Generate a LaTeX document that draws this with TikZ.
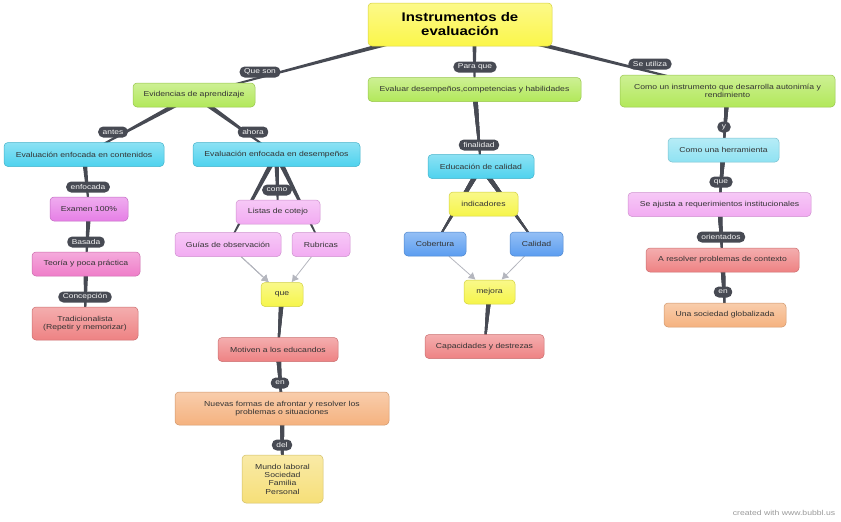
\documentclass[tikz,border=0pt]{standalone}
\usepackage{fontspec}
\setmainfont{Liberation Sans}[FakeStretch=1.2]
\usetikzlibrary{calc,arrows.meta,backgrounds}

\definecolor{linkgray}{HTML}{474A53}
\definecolor{arrgray}{HTML}{B4B6BE}
\definecolor{textgray}{HTML}{333333}
\definecolor{ctitle}{HTML}{FBF64A}
\definecolor{cgreen}{HTML}{B2E85A}
\definecolor{ccyan}{HTML}{4ED2EE}
\definecolor{clcyan}{HTML}{8FE2F2}
\definecolor{cmag}{HTML}{E67FE6}
\definecolor{cpink}{HTML}{EF7DC9}
\definecolor{clilac}{HTML}{F2ABF2}
\definecolor{cred}{HTML}{EE8283}
\definecolor{corange}{HTML}{F5B27F}
\definecolor{cblue}{HTML}{5B9DF0}
\definecolor{cyellow}{HTML}{F6F54A}
\definecolor{cgold}{HTML}{F6DF78}

% tapered link, thick at the parent
\newcommand{\bublink}[2]{%
	\fill[linkgray] ($(#1)!2.6pt!90:(#2)$) -- ($(#2)!0.6pt!-90:(#1)$)
		-- ($(#2)!0.6pt!90:(#1)$) -- ($(#1)!2.6pt!-90:(#2)$) -- cycle;}

\tikzset{
	bubble/.style={rounded corners=4pt, draw=#1!85!black, line width=0.5pt,
		top color=#1!65!white, bottom color=#1, text=textgray,
		font=\fontsize{7.2}{8.3}\selectfont, align=center,
		minimum height=24, inner xsep=6pt, inner ysep=2pt},
	tag/.style={fill=linkgray, text=white!92!gray, rounded corners=5pt,
		font=\fontsize{7}{8}\selectfont, inner xsep=4.5pt, inner ysep=0pt,
		minimum height=11},
	arr/.style={draw=arrgray, line width=0.8pt, -{Latex[length=7pt,width=8pt]}}
}

\begin{document}
\begin{tikzpicture}[x=1pt,y=-1pt]

\useasboundingbox (0,0) rectangle (841,522);

% main bubbles
\node[bubble=ctitle, minimum width=184, minimum height=43, text=black,
	font=\fontsize{12.5}{14}\selectfont\bfseries] (title) at (460,24.5) {Instrumentos de\\evaluación};
\node[bubble=cgreen, minimum width=122] (evid) at (194,95) {Evidencias de aprendizaje};
\node[bubble=cgreen, minimum width=213] (evaluar) at (474.5,89.5) {Evaluar desempeños,competencias y habilidades};
\node[bubble=cgreen, minimum width=215, minimum height=32] (instr) at (727.5,91) {Como un instrumento que desarrolla autonimía y\\rendimiento};

% left branch
\node[bubble=ccyan, minimum width=160] (cont) at (84,154.5) {Evaluación enfocada en contenidos};
\node[bubble=cmag, minimum width=78] (examen) at (89,209) {Examen 100\%};
\node[bubble=cpink, minimum width=108] (teoria) at (86,264) {Teoría y poca práctica};
\node[bubble=cred, minimum width=106, minimum height=33] (trad) at (85,323.5) {Tradicionalista\\(Repetir y memorizar)};

\node[bubble=ccyan, minimum width=167] (desemp) at (276.5,154.5) {Evaluación enfocada en desempeños};
\node[bubble=clilac, minimum width=84] (listas) at (278,212) {Listas de cotejo};
\node[bubble=clilac, minimum width=106] (guias) at (228,244.5) {Guías de observación};
\node[bubble=clilac, minimum width=58] (rubr) at (321,244.5) {Rubricas};
\node[bubble=cyellow, minimum width=42] (que) at (282,294.5) {que};
\node[bubble=cred, minimum width=120] (motiv) at (278,349.5) {Motiven a los educandos};
\node[bubble=corange, minimum width=214, minimum height=33] (nuevas) at (282,408.5) {Nuevas formas de afrontar y resolver los\\problemas o situaciones};
\node[bubble=cgold, minimum width=81, minimum height=48] (mundo) at (282.5,479) {Mundo laboral\\Sociedad\\Familia\\Personal};

% middle branch
\node[bubble=ccyan, minimum width=106] (educ) at (481,166.5) {Educación de calidad};
\node[bubble=cyellow, minimum width=69] (indic) at (483.5,204) {indicadores};
\node[bubble=cblue, minimum width=62] (cober) at (435,244) {Cobertura};
\node[bubble=cblue, minimum width=53] (calid) at (536.5,244) {Calidad};
\node[bubble=cyellow, minimum width=51] (mejora) at (489.5,292) {mejora};
\node[bubble=cred, minimum width=119] (capac) at (484.5,346.5) {Capacidades y destrezas};

% right branch
\node[bubble=clcyan, minimum width=111] (herr) at (723.5,150) {Como una herramienta};
\node[bubble=clilac, minimum width=183] (ajusta) at (719.5,204.5) {Se ajusta a requerimientos institucionales};
\node[bubble=cred, minimum width=153] (resolver) at (722.5,260) {A resolver problemas de contexto};
\node[bubble=corange, minimum width=122] (socied) at (725,315) {Una sociedad globalizada};

\coordinate (tstem) at (evaluar |- title);

\begin{scope}[on background layer]
	\bublink{title}{evid}
	\bublink{tstem}{evaluar}
	\bublink{title}{instr}
	\bublink{evid}{cont}
	\bublink{evid}{desemp}
	\bublink{cont}{examen}
	\bublink{examen}{teoria}
	\bublink{teoria}{trad}
	\foreach \c in {guias,listas,rubr}
		\bublink{desemp}{\c}
	\bublink{que}{motiv}
	\bublink{motiv}{nuevas}
	\bublink{nuevas}{mundo}
	\bublink{evaluar}{educ}
	\bublink{educ}{cober}
	\bublink{educ}{calid}
	\bublink{mejora}{capac}
	\bublink{instr}{herr}
	\bublink{herr}{ajusta}
	\bublink{ajusta}{resolver}
	\bublink{resolver}{socied}
	\draw[arr] (guias) -- (que);
	\draw[arr] (rubr) -- (que);
	\draw[arr] (cober) -- (mejora);
	\draw[arr] (calid) -- (mejora);
\end{scope}

% link labels
\node[tag] (tqueson) at (260,72) {Que son};
\node[tag] (tparaque) at (475,67) {Para que};
\node[tag] (tseutil) at (650,64) {Se utiliza};
\node[tag] (tantes) at (113,132) {antes};
\node[tag] (tahora) at (253,132) {ahora};
\node[tag] (tenfoc) at (88,187) {enfocada};
\node[tag] (tbasada) at (86,242) {Basada};
\node[tag] (tconcep) at (85,297) {Concepción};
\node[tag] (tcomo) at (277,190) {como};
\node[tag] (ten) at (280,383) {en};
\node[tag] (tdel) at (282,445) {del};
\node[tag] (tfinal) at (479,145) {finalidad};
\node[tag] (ty) at (724,127) {y};
\node[tag] (tque) at (721,182) {que};
\node[tag] (torient) at (721,237) {orientados};
\node[tag] (ten2) at (723,292) {en};

\node[text=gray!80, font=\fontsize{7.2}{8}\selectfont] (credit) at (784,513) {created with www.bubbl.us};

\end{tikzpicture}
\end{document}
